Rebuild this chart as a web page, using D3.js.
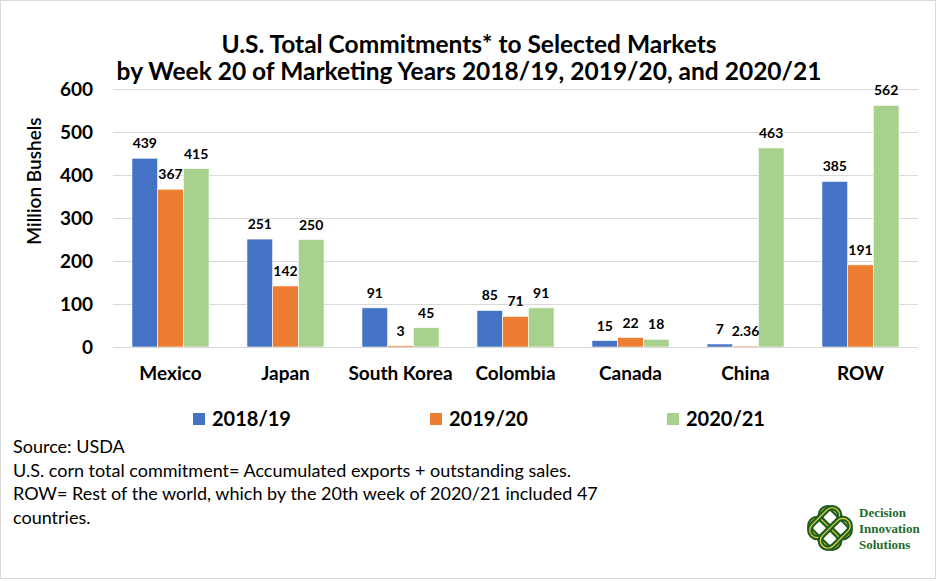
<!DOCTYPE html>
<html>
<head>
<meta charset="utf-8">
<script src="https://cdn.jsdelivr.net/npm/d3@7"></script>
<style>
  body { margin: 0; background: #fff; }
  svg text { font-family: Lato, "Open Sans", sans-serif; fill: #000; }
</style>
</head>
<body>
<div id="chart"></div>
<script>
// chart data
const markets = ["Mexico", "Japan", "South Korea", "Colombia", "Canada", "China", "ROW"]
const seasons = ["2018/19", "2019/20", "2020/21"]
const v1819 = [439, 251, 91, 85, 15, 7, 385]
const v1920 = [367, 142, 3, 71, 22, 2.36, 191]
const v2021 = [415, 250, 45, 91, 18, 463, 562]
const yTicks = [0, 100, 200, 300, 400, 500, 600]
const colors = ["#4472C4", "#ED7D31", "#A9D18E"]
const notes = [
  "Source: USDA",
  "U.S. corn total commitment= Accumulated exports + outstanding sales.",
  "ROW= Rest of the world, which by the 20th week of 2020/21 included 47",
  "countries."
]

const W = 939, H = 581
const plot = {left: 113, right: 918, top: 89, bottom: 347}

const series = [v1819, v1920, v2021]
var data = []
markets.forEach(function(m, i) {
  seasons.forEach(function(s, j) {
    data.push({market: m, season: s, value: series[j][i]})
  })
})

var svg = d3.select("#chart").append("svg")
  .attr("width", W)
  .attr("height", H)

// outer frame
svg.append("rect")
  .attr("x", 0.5).attr("y", 0.5)
  .attr("width", W - 4).attr("height", H - 3)
  .attr("fill", "#fff")
  .attr("stroke", "#d9d9d9")

// title
svg.append("text")
  .attr("x", 469).attr("y", 53)
  .attr("text-anchor", "middle")
  .style("font-size", "24.5px").style("font-weight", "bold")
  .text("U.S. Total Commitments* to Selected Markets")
svg.append("text")
  .attr("x", 469).attr("y", 80)
  .attr("text-anchor", "middle")
  .style("font-size", "24.5px").style("font-weight", "bold")
  .text("by Week 20 of Marketing Years 2018/19, 2019/20, and 2020/21")

var x0 = d3.scaleBand()
  .domain(markets)
  .range([plot.left, plot.right])
  .paddingInner(0.33)
  .paddingOuter(0.165)

var x1 = d3.scaleBand()
  .domain(seasons)
  .range([0, x0.bandwidth()])

var y = d3.scaleLinear()
  .domain([0, 600])
  .range([plot.bottom, plot.top])

// grid
svg.append("g")
  .attr("transform", "translate(" + plot.left + ",0)")
  .call(d3.axisLeft(y).tickValues(yTicks).tickSize(-(plot.right - plot.left)).tickFormat(""))
  .call(g => g.select(".domain").remove())
  .call(g => g.selectAll("line").attr("stroke", "#d9d9d9"))

// y tick labels
svg.append("g")
  .attr("transform", "translate(93,0)")
  .call(d3.axisLeft(y).tickValues(yTicks).tickSize(0).tickPadding(0))
  .call(g => g.select(".domain").remove())
  .call(g => g.selectAll("text")
    .style("font-size", "19px").style("font-weight", "bold")
    .attr("font-family", null).attr("dy", "0.35em"))

svg.append("text")
  .attr("transform", "translate(41,181) rotate(-90)")
  .attr("text-anchor", "middle")
  .style("font-size", "19px").style("font-weight", "600")
  .text("Million Bushels")

// bars
svg.append("g").selectAll("rect")
  .data(data)
  .join("rect")
  .attr("x", d => x0(d.market) + x1(d.season))
  .attr("y", d => y(d.value))
  .attr("width", x1.bandwidth())
  .attr("height", d => y(0) - y(d.value))
  .attr("fill", d => colors[seasons.indexOf(d.season)])
  .attr("stroke", "#fff")
  .attr("stroke-width", 0.6)

// value labels
svg.append("g").selectAll("text")
  .data(data)
  .join("text")
  .attr("x", d => x0(d.market) + x1(d.season) + x1.bandwidth() / 2)
  .attr("y", d => y(d.value) - 10)
  .attr("text-anchor", "middle")
  .style("font-size", "14px").style("font-weight", "bold")
  .text(d => d.value)

// x axis
svg.append("g")
  .attr("transform", "translate(0," + plot.bottom + ")")
  .call(d3.axisBottom(x0).tickSize(0).tickPadding(20))
  .call(g => g.select(".domain").attr("stroke", "#d9d9d9").attr("d", "M" + plot.left + ",0.5H" + plot.right))
  .call(g => g.selectAll("text")
    .style("font-size", "19px").style("font-weight", "bold")
    .attr("font-family", null))

// legend
var lx = [193, 430, 667]
var legend = svg.append("g").selectAll("g")
  .data(seasons)
  .join("g")
  .attr("transform", (d, i) => "translate(" + lx[i] + ",413)")
legend.append("rect")
  .attr("width", 12).attr("height", 12)
  .attr("fill", (d, i) => colors[i])
legend.append("text")
  .attr("x", 19).attr("y", 13)
  .style("font-size", "20px").style("font-weight", "bold")
  .text(d => d)

// notes
svg.append("g").selectAll("text")
  .data(notes)
  .join("text")
  .attr("x", 13)
  .attr("y", (d, i) => 453 + i * 23.5)
  .style("font-size", "18px")
  .text(d => d)

// logo
var logo = svg.append("g").attr("transform", "translate(830,528)")
;[45, -45].forEach(function(a) {
  [-7.5, 7.5].forEach(function(o) {
    logo.append("rect")
      .attr("x", -18).attr("y", o - 7.5)
      .attr("width", 36).attr("height", 15)
      .attr("rx", 7.5)
      .attr("transform", "rotate(" + a + ")")
      .attr("fill", "none")
      .attr("stroke", "#1a5e22").attr("stroke-width", 5.5)
    logo.append("rect")
      .attr("x", -18).attr("y", o - 7.5)
      .attr("width", 36).attr("height", 15)
      .attr("rx", 7.5)
      .attr("transform", "rotate(" + a + ")")
      .attr("fill", "none")
      .attr("stroke", "#f2d23a").attr("stroke-width", 1.2)
  })
})
var logoText = ["Decision", "Innovation", "Solutions"]
svg.append("g").selectAll("text")
  .data(logoText)
  .join("text")
  .attr("x", 859)
  .attr("y", (d, i) => 517 + i * 16)
  .style("font-family", "'Liberation Serif', 'DejaVu Serif', serif")
  .style("font-size", "13px").style("font-weight", "bold")
  .style("fill", "#1f6b2a")
  .text(d => d)
</script>
</body>
</html>
